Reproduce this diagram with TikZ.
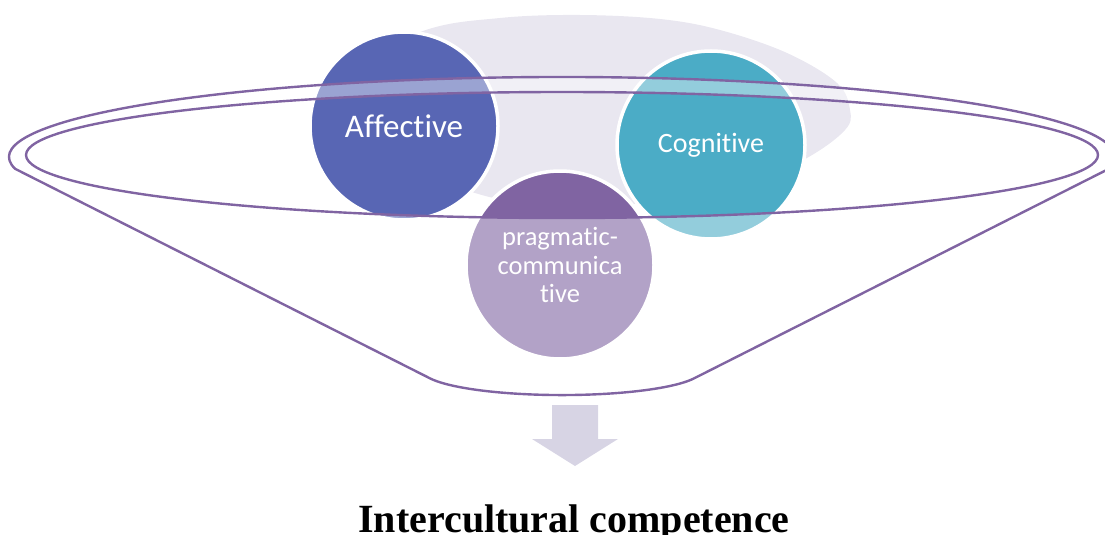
\documentclass[tikz,border=0pt]{standalone}
\usepackage{fontspec}
\setmainfont{Liberation Serif}
\newfontfamily\calib[Ligatures={NoCommon,NoContextual}]{Carlito}
\definecolor{affc}{RGB}{88,102,180}
\definecolor{cogc}{RGB}{75,172,198}
\definecolor{pragc}{RGB}{128,100,162}
\definecolor{graybg}{RGB}{233,231,240}
\definecolor{linec}{RGB}{128,100,162}
\definecolor{arrowc}{RGB}{215,212,228}
\begin{document}
\begin{tikzpicture}[x=1pt,y=-1pt,
  circ/.style={circle, draw=white, line width=3.5pt, minimum size=188pt, inner sep=0pt, text=white, align=center},
  funnelline/.style={draw=linec, line width=2.4pt, line join=round},
  funnelfill/.style={fill=white, fill opacity=0.4, even odd rule}]
\useasboundingbox (0,0) rectangle (1105,535);
\clip (0,0) rectangle (1105,535);
% background shape
\fill[graybg] plot[smooth cycle, tension=0.6] coordinates {(340,75) (423,31) (500,18) (580,15) (660,19) (720,30) (787,53) (837,83) (850,110) (845,130) (807,158) (740,190) (650,203) (540,203) (475,193) (400,160) (345,115)};
% circles
\node[circ, fill=affc, font=\calib\fontsize{33}{40}\selectfont] (aff) at (404,126) {Affective};
\node[circ, fill=pragc, font=\calib\fontsize{26.5}{28.5}\selectfont] (prag) at (560,265) {pragmatic-\\communica\\tive};
\node[circ, fill=cogc, font=\calib\fontsize{28}{34}\selectfont] (cog) at (711,145) {Cognitive};
% funnel translucent fill
\path[funnelfill] (15.1,168.8) arc[start angle=171.5, end angle=368.5, x radius=553, y radius=80]
  -- (693.6,378.6) arc[start angle=20, end angle=160, x radius=140, y radius=25] -- cycle
  (562,155) ellipse[x radius=536, y radius=63];
% funnel outlines
\draw[funnelline] (15.1,168.8) arc[start angle=171.5, end angle=368.5, x radius=553, y radius=80]
  -- (693.6,378.6) arc[start angle=20, end angle=160, x radius=140, y radius=25] -- cycle;
\draw[funnelline] (562,155) ellipse[x radius=536, y radius=63];
% arrow
\fill[arrowc] (552,405) -- (598,405) -- (598,439) -- (618,439) -- (575,466) -- (532,439) -- (552,439) -- cycle;
% title
\node[anchor=base, inner sep=0pt, font=\bfseries\fontsize{40}{40}\selectfont] (title) at (574,532) {Intercultural competence};
\end{tikzpicture}
\end{document}
